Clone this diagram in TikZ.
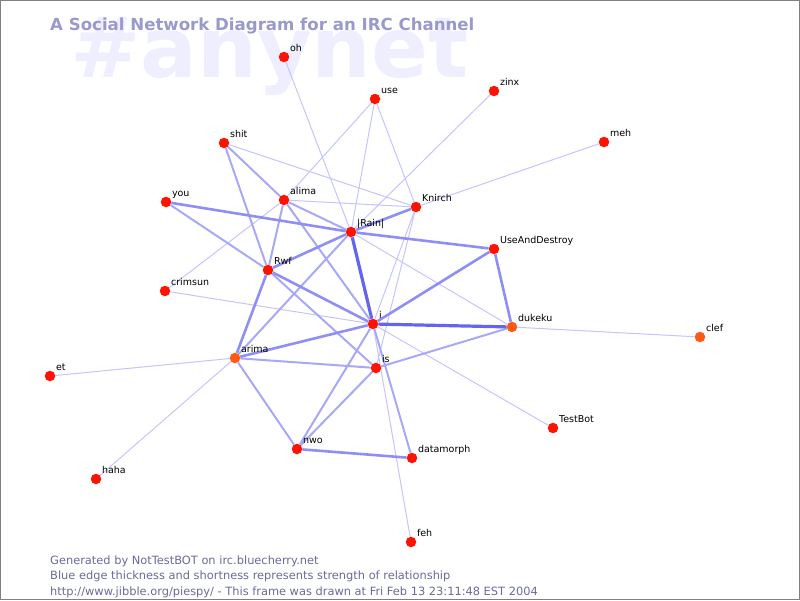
\documentclass[tikz,border=0pt]{standalone}
\usepackage{fontspec}
\setmainfont{DejaVu Sans}
\definecolor{nickred}{HTML}{FF1200}
\definecolor{nickorange}{HTML}{FF5A10}
\definecolor{edgeA}{HTML}{C4C4FF}
\definecolor{edgeB}{HTML}{A8A8F8}
\definecolor{edgeC}{HTML}{8E8EF4}
\definecolor{edgeD}{HTML}{6464EE}
\definecolor{wmark}{HTML}{EEEEFF}
\definecolor{titleblue}{HTML}{9999CC}
\definecolor{footblue}{HTML}{6A6A9C}
\pgfdeclarelayer{back}
\pgfdeclarelayer{edges}
\pgfsetlayers{back,edges,main}

\begin{document}
\begin{tikzpicture}[
	x=1pt, y=-1pt,
	nick/.style = {circle, fill=nickred, minimum size=10.5pt, inner sep=0pt},
	hot/.style  = {nick, fill=nickorange},
	lbl/.style  = {anchor=base west, inner sep=0pt, xshift=2pt, yshift=1.5pt,
	               font=\fontsize{9.5}{11}\selectfont},
	e1/.style = {edgeA, line width=1pt},
	e2/.style = {edgeB, line width=2pt},
	e3/.style = {edgeC, line width=2.6pt},
	e4/.style = {edgeD, line width=3.2pt}
     ]
	\useasboundingbox (0,0) rectangle (800,600);
	\draw[gray, line width=1pt] (0.5,0.5) rectangle (799.5,599.5);
%
	\begin{pgfonlayer}{back}
		\node (wm) [anchor=base west, inner sep=0pt, text=wmark,
		  font=\fontsize{84}{84}\selectfont\bfseries] at (70,77) {\#anynet};
	\end{pgfonlayer}
	\node (title) [anchor=base west, inner sep=0pt, text=titleblue,
	  font=\fontsize{16.6}{20}\selectfont\bfseries] at (50,30)
	  {A Social Network Diagram for an IRC Channel};
%
	\node (oh)        [nick, label={[lbl]45:oh}]            at (284,57)  {};
	\node (use)       [nick, label={[lbl]45:use}]           at (375,99)  {};
	\node (zinx)      [nick, label={[lbl]45:zinx}]          at (494,91)  {};
	\node (meh)       [nick, label={[lbl]45:meh}]           at (604,142) {};
	\node (shit)      [nick, label={[lbl]45:shit}]          at (224,143) {};
	\node (you)       [nick, label={[lbl]45:you}]           at (166,202) {};
	\node (alima)     [nick, label={[lbl]45:alima}]         at (284,200) {};
	\node (knirch)    [nick, label={[lbl]45:Knirch}]        at (416,207) {};
	\node (rain)      [nick, label={[lbl]45:|Rain|}]        at (351,232) {};
	\node (uad)       [nick, label={[lbl]45:UseAndDestroy}] at (494,249) {};
	\node (rwf)       [nick, label={[lbl]45:Rwf}]           at (268,270) {};
	\node (crimsun)   [nick, label={[lbl]45:crimsun}]       at (165,291) {};
	\node (i)         [nick, label={[lbl]45:i}]             at (373,324) {};
	\node (dukeku)    [hot,  label={[lbl]45:dukeku}]        at (512,327) {};
	\node (clef)      [hot,  label={[lbl]45:clef}]          at (700,337) {};
	\node (arima)     [hot,  label={[lbl]45:arima}]         at (235,358) {};
	\node (et)        [nick, label={[lbl]45:et}]            at (50,376)  {};
	\node (is)        [nick, label={[lbl]45:is}]            at (376,368) {};
	\node (testbot)   [nick, label={[lbl]45:TestBot}]       at (553,428) {};
	\node (nwo)       [nick, label={[lbl]45:nwo}]           at (297,449) {};
	\node (datamorph) [nick, label={[lbl]45:datamorph}]     at (412,458) {};
	\node (haha)      [nick, label={[lbl]45:haha}]          at (96,479)  {};
	\node (feh)       [nick, label={[lbl]45:feh}]           at (411,542) {};
%
	\begin{pgfonlayer}{edges}
	\draw[e1] (oh) -- (rain)   (use) -- (alima)  (use) -- (rain)   (use) -- (knirch)
	          (zinx) -- (rain) (meh) -- (knirch) (shit) -- (knirch) (alima) -- (knirch)
	          (alima) -- (crimsun) (knirch) -- (i) (knirch) -- (is) (rain) -- (dukeku)
	          (i) -- (crimsun) (i) -- (testbot) (i) -- (feh) (dukeku) -- (clef)
	          (arima) -- (et) (arima) -- (haha);
	\draw[e2] (shit) -- (alima) (shit) -- (rwf) (you) -- (rwf) (alima) -- (rain)
	          (alima) -- (rwf) (alima) -- (i) (rain) -- (arima) (rwf) -- (is)
	          (arima) -- (nwo) (arima) -- (is) (nwo) -- (is) (dukeku) -- (is)
	          (i) -- (nwo) (i) -- (datamorph);
	\draw[e3] (you) -- (rain) (knirch) -- (rain) (rain) -- (uad) (rain) -- (rwf)
	          (i) -- (uad) (i) -- (arima) (i) -- (rwf) (uad) -- (dukeku)
	          (arima) -- (rwf) (nwo) -- (datamorph);
	\draw[e4] (rain) -- (i) (i) -- (dukeku);
	\end{pgfonlayer}
%
	\node (foot) [anchor=base west, inner sep=0pt, align=left, text=footblue,
	  font=\fontsize{11.4}{15.5}\selectfont] at (50,595)
	  {Generated by NotTestBOT on irc.bluecherry.net\\
	   Blue edge thickness and shortness represents strength of relationship\\
	   http://www.jibble.org/piespy/ - This frame was drawn at Fri Feb 13 23:11:48 EST 2004};
\end{tikzpicture}
\end{document}
